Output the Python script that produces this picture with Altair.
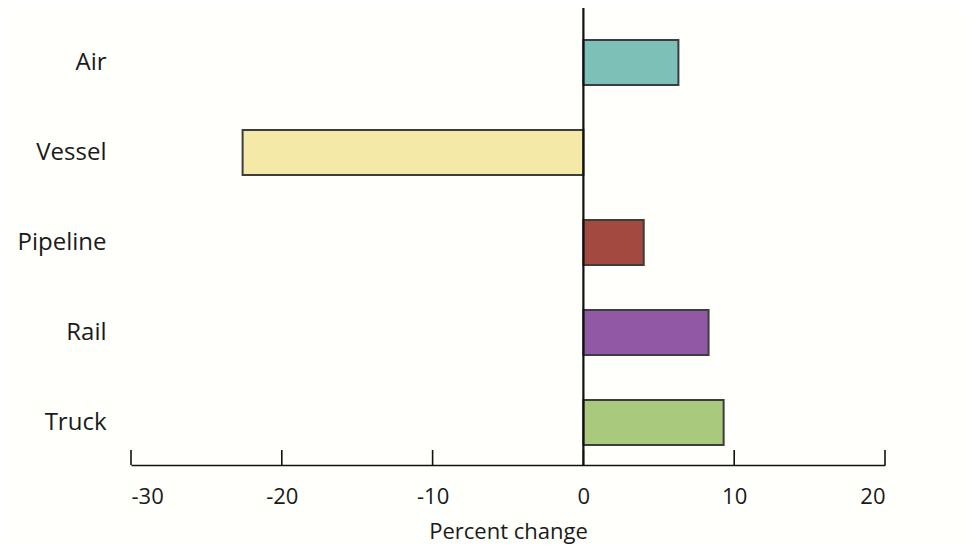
import altair as alt
import pandas as pd

modes = ["Air", "Vessel", "Pipeline", "Rail", "Truck"]
values = [6.3, -22.6, 4.0, 8.3, 9.3]
colors = ["#7cc0b8", "#f4e9a6", "#a3493f", "#9159a5", "#a9c97c"]
ticks = [-30, -20, -10, 0, 10, 20]

df = pd.DataFrame({"mode": modes, "value": values})
tick_df = pd.DataFrame({"t": ticks})

W, H = 754, 457
FONT = "Open Sans"

xscale = alt.Scale(domain=[-30, 20], nice=False, zero=False)

bars = alt.Chart(df).mark_bar(stroke="#3d3d3d", strokeWidth=2).encode(
    x=alt.X("value:Q", scale=xscale,
            axis=alt.Axis(values=ticks, title="Percent change", grid=False,
                          labelExpr="'' + datum.value",
                          ticks=False, domainColor="#111", domainWidth=1.6,
                          labelFont=FONT, labelFontSize=22, labelColor="#1a1a1a",
                          labelPadding=21, titleFont=FONT, titleFontSize=22,
                          titleFontWeight="normal", titleColor="#1a1a1a",
                          titlePadding=14)),
    x2=alt.X2(datum=0),
    y=alt.Y("mode:N", sort=modes,
            scale=alt.Scale(range=[9.5, 459.5], paddingInner=0.5, paddingOuter=0.25),
            axis=alt.Axis(title=None, domain=False, ticks=False, labelFont=FONT,
                          labelFontSize=24, labelColor="#1a1a1a", labelPadding=25)),
    color=alt.Color("mode:N", scale=alt.Scale(domain=modes, range=colors), legend=None),
)

tick_rules = alt.Chart(tick_df).mark_rule(color="#111", strokeWidth=1.6).encode(
    x=alt.X("t:Q", scale=xscale),
    y=alt.value(H - 15),
    y2=alt.value(H),
)

zero_line = alt.Chart(pd.DataFrame({"z": [0]})).mark_rule(color="#111", strokeWidth=2.2).encode(
    x=alt.X("z:Q", scale=xscale),
    y=alt.value(0),
    y2=alt.value(H),
)

chart = (bars + tick_rules + zero_line).properties(
    width=W, height=H,
    autosize=alt.AutoSizeParams(type="none"),
    padding={"left": 123, "top": 0, "right": 80, "bottom": 79},
    background="#fffffb",
).configure_view(stroke=None)

chart.save("out.html", embed_options={"renderer": "svg", "actions": False})
